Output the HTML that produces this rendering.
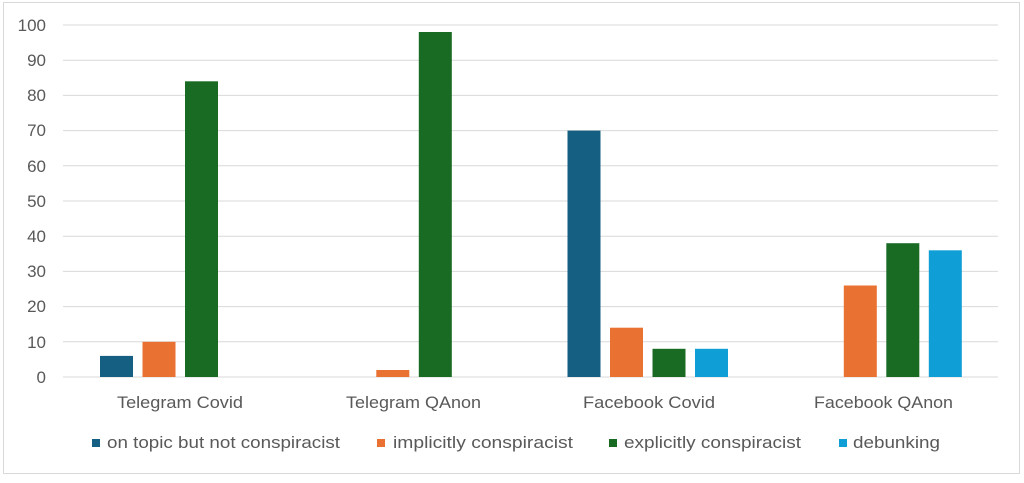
<!DOCTYPE html>
<html><head><style>
html,body{margin:0;padding:0;background:#fff;}
svg text{font-family:"Liberation Sans",sans-serif;fill:#595959;}
</style></head><body>
<svg width="1024" height="478" xmlns="http://www.w3.org/2000/svg">
<rect x="3.5" y="2.5" width="1016" height="471" fill="#fff" stroke="#d9d9d9" stroke-width="1"/>
<g stroke="#d9d9d9" stroke-width="1">
<line x1="63" x2="998" y1="25" y2="25"/><line x1="63" x2="998" y1="60.2" y2="60.2"/>
<line x1="63" x2="998" y1="95.4" y2="95.4"/><line x1="63" x2="998" y1="130.6" y2="130.6"/>
<line x1="63" x2="998" y1="165.8" y2="165.8"/><line x1="63" x2="998" y1="201" y2="201"/>
<line x1="63" x2="998" y1="236.2" y2="236.2"/><line x1="63" x2="998" y1="271.4" y2="271.4"/>
<line x1="63" x2="998" y1="306.6" y2="306.6"/><line x1="63" x2="998" y1="341.8" y2="341.8"/>
<line x1="63" x2="998" y1="377" y2="377"/>
</g>
<g font-size="17" text-anchor="end">
<text x="46" y="31">100</text><text x="46" y="66">90</text><text x="46" y="101">80</text>
<text x="46" y="136">70</text><text x="46" y="172">60</text><text x="46" y="207">50</text>
<text x="46" y="242">40</text><text x="46" y="277">30</text><text x="46" y="312">20</text>
<text x="46" y="348">10</text><text x="46" y="383">0</text>
</g>
<rect x="100" y="355.9" width="33" height="21.1" fill="#156082"/>
<rect x="142.5" y="341.8" width="33" height="35.2" fill="#E97132"/>
<rect x="185" y="81.3" width="33" height="295.7" fill="#196B24"/>
<rect x="376.3" y="370" width="33" height="7" fill="#E97132"/>
<rect x="418.8" y="32" width="33" height="345" fill="#196B24"/>
<rect x="567.5" y="130.6" width="33" height="246.4" fill="#156082"/>
<rect x="610" y="327.7" width="33" height="49.3" fill="#E97132"/>
<rect x="652.5" y="348.8" width="33" height="28.2" fill="#196B24"/>
<rect x="695" y="348.8" width="33" height="28.2" fill="#0F9ED5"/>
<rect x="843.8" y="285.5" width="33" height="91.5" fill="#E97132"/>
<rect x="886.3" y="243.2" width="33" height="133.8" fill="#196B24"/>
<rect x="928.8" y="250.3" width="33" height="126.7" fill="#0F9ED5"/>
<g font-size="17">
<text x="117" y="408" textLength="126" lengthAdjust="spacingAndGlyphs">Telegram Covid</text>
<text x="346" y="408" textLength="135" lengthAdjust="spacingAndGlyphs">Telegram QAnon</text>
<text x="583" y="408" textLength="132" lengthAdjust="spacingAndGlyphs">Facebook Covid</text>
<text x="814" y="408" textLength="139" lengthAdjust="spacingAndGlyphs">Facebook QAnon</text>
</g>
<g font-size="17">
<rect x="92" y="439" width="8" height="8" fill="#156082"/><text x="107" y="448" textLength="233" lengthAdjust="spacingAndGlyphs">on topic but not conspiracist</text>
<rect x="377" y="439" width="8" height="8" fill="#E97132"/><text x="393" y="448" textLength="180" lengthAdjust="spacingAndGlyphs">implicitly conspiracist</text>
<rect x="609" y="439" width="8" height="8" fill="#196B24"/><text x="624" y="448" textLength="177" lengthAdjust="spacingAndGlyphs">explicitly conspiracist</text>
<rect x="839" y="439" width="8" height="8" fill="#0F9ED5"/><text x="853" y="448" textLength="87" lengthAdjust="spacingAndGlyphs">debunking</text>
</g>
</svg>
</body></html>
